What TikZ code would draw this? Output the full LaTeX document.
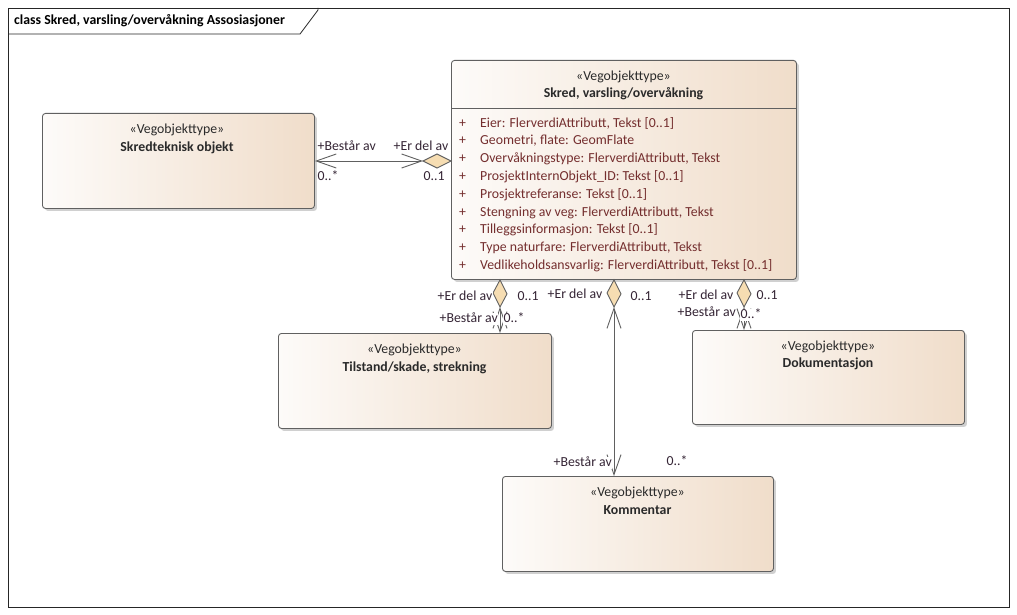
\documentclass[tikz,border=0pt]{standalone}
\usepackage{fontspec}
\setmainfont{Carlito}
\usetikzlibrary{shadows,arrows.meta}
\definecolor{clsL}{HTML}{FDFBF9}
\definecolor{clsR}{HTML}{F0DDCA}
\definecolor{edge}{HTML}{606060}
\definecolor{attr}{HTML}{742E2E}
\definecolor{lbl}{HTML}{352535}
\definecolor{txt}{HTML}{2A2A2A}
\definecolor{diafill}{HTML}{F6DDB2}
\newcommand\umlfont{\fontsize{13.8}{16}\selectfont}
\begin{document}
\begin{tikzpicture}[x=1pt,y=-1pt,
  cls/.style={draw=edge, line width=0.9pt, rounded corners=3pt,
    left color=clsL, right color=clsR, anchor=north west, inner sep=0pt,
    drop shadow={shadow xshift=2.5pt, shadow yshift=-2.5pt, opacity=0.3, fill=black!60}},
  stereo/.style={font=\umlfont, text=txt, inner sep=0pt, text height=9.5pt, text depth=3pt},
  cname/.style={font=\umlfont\bfseries, text=txt, inner sep=0pt, text height=9.5pt, text depth=3pt},
  attrib/.style={font=\umlfont, text=attr, inner sep=0pt, anchor=west, text height=9.5pt, text depth=3pt},
  lab/.style={font=\umlfont, text=lbl, fill=white, anchor=west, inner xsep=0.5pt, inner ysep=0pt, text height=9.5pt, text depth=3pt},
  conn/.style={draw=edge, line width=0.9pt,
    {Straight Barb[length=20pt,width=14pt]}-{Straight Barb[length=20pt,width=14pt]}},
  dia/.style={draw=edge, fill=diafill, line width=0.9pt, line join=miter},
  frame/.style={draw=black!85, line width=0.8pt}]

% page and diagram frame
\useasboundingbox (0,0) rectangle (1017,615);
\fill[white] (0,0) rectangle (1017,615);
\draw[frame] (8,8) rectangle (1009,607);
\draw[frame] (8,34) -- (300,34) -- (318,10) -- (318,8);
\node[font=\umlfont\bfseries, text=black, anchor=west, inner sep=0pt, text height=9.5pt, text depth=3pt]
  (title) at (14,21) {class Skred, varsling/overvåkning Assosiasjoner};

% classes
\node[cls, minimum width=345pt, minimum height=219pt] (main) at (451,60) {};
\node[cls, minimum width=272pt, minimum height=95pt] (skr) at (42,113) {};
\node[cls, minimum width=273pt, minimum height=95pt] (til) at (278,333) {};
\node[cls, minimum width=272pt, minimum height=94pt] (dok) at (692,330) {};
\node[cls, minimum width=271pt, minimum height=95pt] (kom) at (502,476) {};

% main class header and attributes
\draw[edge, line width=0.9pt] (451,108) -- (796,108);
\node[stereo] (mainst) at (623.5,77) {«Vegobjekttype»};
\node[cname] (mainnm) at (623.5,94) {Skred, varsling/overvåkning};
\foreach \t [count=\i] in {
  {Eier: FlerverdiAttributt, Tekst [0..1]},
  {Geometri, flate: GeomFlate},
  {Overvåkningstype: FlerverdiAttributt, Tekst},
  {ProsjektInternObjekt\_ID: Tekst [0..1]},
  {Prosjektreferanse: Tekst [0..1]},
  {Stengning av veg: FlerverdiAttributt, Tekst},
  {Tilleggsinformasjon: Tekst [0..1]},
  {Type naturfare: FlerverdiAttributt, Tekst},
  {Vedlikeholdsansvarlig: FlerverdiAttributt, Tekst [0..1]}}{
  \node[attrib] (ap\i) at (459,106.25+17.75*\i) {+};
  \node[attrib] (at\i) at (480,106.25+17.75*\i) {\t};
}

% other class captions
\node[stereo] (skrst) at (177,130) {«Vegobjekttype»};
\node[cname]  (skrnm) at (177,148) {Skredteknisk objekt};
\node[stereo] (tilst) at (414.5,350) {«Vegobjekttype»};
\node[cname]  (tilnm) at (414.5,368) {Tilstand/skade, strekning};
\node[stereo] (dokst) at (828,347) {«Vegobjekttype»};
\node[cname]  (doknm) at (828,364) {Dokumentasjon};
\node[stereo] (komst) at (637.5,493) {«Vegobjekttype»};
\node[cname]  (komnm) at (637.5,511) {Kommentar};

% aggregation ends (diamond tips)
\coordinate (d1) at (423,161);
\coordinate (d2) at (500,307);
\coordinate (d3) at (614,307);
\coordinate (d4) at (744,307);

% connectors
\draw[conn] (d1) -- (skr.east |- d1);
\draw[conn] (d2) -- (til.north -| d2);
\draw[conn] (d3) -- (kom.north -| d3);
\draw[conn] (d4) -- (dok.north -| d4);

% aggregation diamonds
\draw[dia] (main.west |- d1) -- ++(-14,-7) -- (d1) -- ++(14,7) -- cycle;
\foreach \d in {d2,d3,d4}{
  \draw[dia] (main.south -| \d) -- ++(7,14) -- (\d) -- ++(-7,-14) -- cycle;
}

% role names and multiplicities
\node[lab] (l1a) at (317,147) {+Består av};
\node[lab] (l1b) at (317,177) {0..*};
\node[lab] (l1c) at (393,147) {+Er del av};
\node[lab] (l1d) at (423,177) {0..1};

\node[lab] (l2a) at (437,297) {+Er del av};
\node[lab] (l2b) at (517,297) {0..1};
\node[lab] (l2c) at (439,319) {+Består av};
\node[lab] (l2d) at (503,319) {0..*};

\node[lab] (l3a) at (547,295) {+Er del av};
\node[lab] (l3b) at (630,297) {0..1};
\node[lab] (l3c) at (553,463) {+Består av};
\node[lab] (l3d) at (666,462) {0..*};

\node[lab] (l4a) at (678,296) {+Er del av};
\node[lab] (l4b) at (756,296) {0..1};
\node[lab] (l4c) at (677,313) {+Består av};
\node[lab] (l4d) at (740,315) {0..*};
\end{tikzpicture}
\end{document}
